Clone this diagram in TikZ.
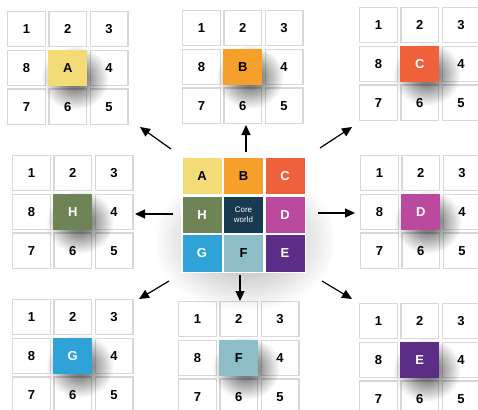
\documentclass[tikz,border=0pt]{standalone}
\usepackage{fontspec}
\setmainfont{Liberation Sans}
\usetikzlibrary{arrows.meta, fadings}
\definecolor{cellA}{HTML}{F3DC78}
\definecolor{cellB}{HTML}{F5A02A}
\definecolor{cellC}{HTML}{EF613A}
\definecolor{cellD}{HTML}{BB4A9E}
\definecolor{cellE}{HTML}{5C2D86}
\definecolor{cellF}{HTML}{8DBDC6}
\definecolor{cellG}{HTML}{2FA3D8}
\definecolor{cellH}{HTML}{6E8456}
\definecolor{coreColor}{HTML}{173A50}
\definecolor{gridLine}{HTML}{D8D8D8}
\tikzfading[name=softspot, inner color=transparent!0, outer color=transparent!100]

\tikzset{
  numcell/.style={draw=gridLine, line width=1.3pt, fill=white, minimum width=37.7pt,
    minimum height=35.2pt, inner sep=0pt, font=\bfseries\fontsize{13}{13}\selectfont},
  hubcell/.style={minimum width=39pt, minimum height=36.5pt, inner sep=0pt,
    font=\bfseries\fontsize{13}{13}\selectfont},
  corecell/.style={hubcell, fill=coreColor, text=white, align=center,
    font=\fontsize{8}{10}\selectfont},
  shadowspot/.style={fill=black, fill opacity=0.7, path fading=softspot},
  spread/.style={line width=1.2pt, -{Triangle[length=10pt, width=9pt]}}
}

\begin{document}
\begin{tikzpicture}[x=1pt, y=-1pt]
  \useasboundingbox (0,0) rectangle (478,409);

  % 1. OUTER GRIDS (numbers round one coloured cell)
  \foreach \gn/\gx/\gy/\gc/\gl/\gt in {a/7/11/cellA/A/black, b/182/10/cellB/B/black,
      c/359/7/cellC/C/white, h/12/155/cellH/H/white, d/360/155/cellD/D/white,
      g/12/299/cellG/G/white, f/178/301/cellF/F/black, e/359/303/cellE/E/white} {
    \foreach \i/\j/\k in {0/0/1, 1/0/2, 2/0/3, 2/1/4, 2/2/5, 1/2/6, 0/2/7, 0/1/8}
      \node[numcell] (\gn\k) at (\gx+19.5+41.3*\i, \gy+18.2+38.7*\j) {\k};
    \fill[shadowspot] (\gx+19.5+41.3+7, \gy+18.2+38.7+10) ellipse [x radius=34, y radius=32];
    \node[hubcell, fill=\gc, text=\gt] (\gn0)
      at (\gx+19.5+41.3, \gy+18.2+38.7) {\gl};
  }

  % 2. CENTRAL GRID
  \fill[shadowspot, fill opacity=0.35] (245,240) ellipse [x radius=92, y radius=72];
  \fill[white] (181,157) rectangle (306,273);
  \node[hubcell, fill=cellA] (hubA) at (202,176) {A};
  \node[hubcell, fill=cellB] (hubB) at (243.5,176) {B};
  \node[hubcell, fill=cellC, text=white] (hubC) at (285,176) {C};
  \node[hubcell, fill=cellH, text=white] (hubH) at (202,215) {H};
  \node[corecell] (core) at (243.5,215) {Core\\world};
  \node[hubcell, fill=cellD, text=white] (hubD) at (285,215) {D};
  \node[hubcell, fill=cellG, text=white] (hubG) at (202,253.5) {G};
  \node[hubcell, fill=cellF] (hubF) at (243.5,253.5) {F};
  \node[hubcell, fill=cellE, text=white] (hubE) at (285,253.5) {E};

  % 3. ARROWS (centre to each neighbour)
  \foreach \an/\sx/\sy/\ex/\ey in {nw/171/149/140/127, n/246/152/246/125,
      ne/320/148/352/127, w/173/214/135/214, e/318/213/355/213,
      sw/169/281/139/299, s/240/275/240/301, se/322/281/352/299} {
    \coordinate (\an-from) at (\sx,\sy);
    \coordinate (\an-to) at (\ex,\ey);
    \draw[spread] (\an-from) -- (\an-to);
  }
\end{tikzpicture}
\end{document}
